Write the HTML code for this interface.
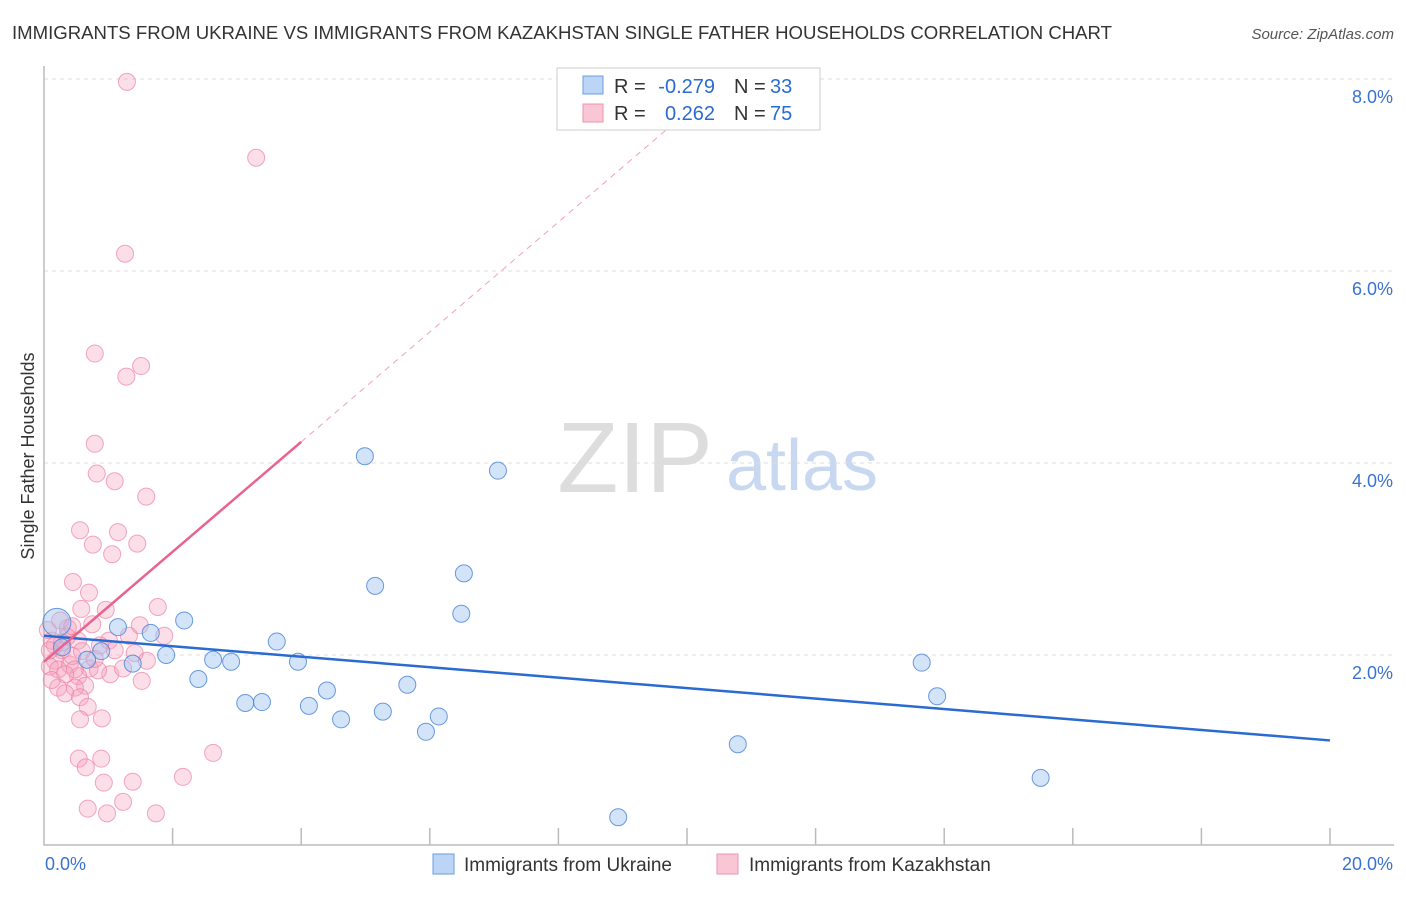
<!DOCTYPE html>
<html><head><meta charset="utf-8"><style>
body{margin:0;background:#fff;font-family:"Liberation Sans",sans-serif;}
svg text{font-family:"Liberation Sans",sans-serif;}
</style></head><body>
<svg id="chart" width="1406" height="892" xmlns="http://www.w3.org/2000/svg">
<text x="12" y="39" font-size="18" fill="#333" textLength="1100" lengthAdjust="spacingAndGlyphs">IMMIGRANTS FROM UKRAINE VS IMMIGRANTS FROM KAZAKHSTAN SINGLE FATHER HOUSEHOLDS CORRELATION CHART</text>
<text x="1394" y="39" font-size="15" fill="#555" text-anchor="end" font-style="italic">Source: ZipAtlas.com</text>
<text transform="translate(34,456) rotate(-90)" font-size="18" fill="#333" text-anchor="middle">Single Father Households</text>
<g><text x="635" y="492" font-size="100" fill="#ddd" text-anchor="middle" font-family="Liberation Serif">ZIP</text><text x="802" y="490" font-size="72" fill="#c8d8f0" text-anchor="middle">atlas</text></g>
<g id="grid"></g><g id="axes"></g><g id="pts"></g><g id="lines"></g>
<g>
<rect x="557" y="68" width="263" height="62" fill="#fff" stroke="#ccc"/>
<rect x="583" y="76" width="20" height="18" fill="#bcd4f5" stroke="#6a9ee0"/>
<rect x="583" y="104" width="20" height="18" fill="#f9c6d5" stroke="#ef93ae"/>
<text x="614" y="93" font-size="20" fill="#333">R =</text>
<text x="715" y="93" font-size="20" fill="#2a6bd1" text-anchor="end">-0.279</text>
<text x="734" y="93" font-size="20" fill="#333">N =</text>
<text x="770" y="93" font-size="20" fill="#2a6bd1">33</text>
<text x="614" y="120" font-size="20" fill="#333">R =</text>
<text x="715" y="120" font-size="20" fill="#2a6bd1" text-anchor="end">0.262</text>
<text x="734" y="120" font-size="20" fill="#333">N =</text>
<text x="770" y="120" font-size="20" fill="#2a6bd1">75</text>
</g>
<g>
<rect x="433" y="854" width="21" height="20" fill="#bcd4f5" stroke="#6a9ee0"/>
<text x="464" y="871" font-size="19" fill="#333">Immigrants from Ukraine</text>
<rect x="717" y="854" width="21" height="20" fill="#f9c6d5" stroke="#ef93ae"/>
<text x="749" y="871" font-size="19" fill="#333">Immigrants from Kazakhstan</text>
</g>
</svg>
<script>
const xTicks=[0,2,4,6,8,10,12,14,16,18,20];
const yTicks=[2,4,6,8];
const ukrX=[0.2,1.15,1.66,2.18,0.89,0.67,1.38,1.9,2.4,2.63,2.91,3.13,3.39,3.62,3.95,4.12,4.4,4.62,4.99,5.15,5.27,5.65,5.94,6.14,6.49,6.53,7.06,8.93,10.79,13.65,13.89,15.5,0.28];
const ukrY=[2.34,2.29,2.23,2.36,2.04,1.95,1.91,2.0,1.75,1.95,1.93,1.5,1.51,2.14,1.93,1.47,1.63,1.33,4.07,2.72,1.41,1.69,1.2,1.36,2.43,2.85,3.92,0.31,1.07,1.92,1.57,0.72,2.08];
const kazX=[1.29,3.3,1.26,0.79,1.28,1.51,0.79,0.82,1.1,1.59,0.56,0.76,1.15,1.06,1.45,0.45,0.7,0.58,0.96,1.77,1.32,1.87,1.41,1.6,1.01,0.75,0.37,0.12,0.28,0.53,0.17,0.4,0.09,0.71,1.03,1.23,0.84,0.53,0.64,0.22,0.48,1.52,0.33,0.56,0.68,0.9,0.56,0.54,0.89,2.63,0.65,0.93,1.38,2.16,1.23,0.68,0.98,1.74,0.17,0.06,0.25,0.36,0.44,0.59,0.79,0.22,0.48,0.33,0.12,0.87,1.1,1.49,0.28,0.09,0.44];
const kazY=[7.97,7.18,6.18,5.14,4.9,5.01,4.2,3.89,3.81,3.65,3.3,3.15,3.28,3.05,3.16,2.76,2.65,2.48,2.47,2.5,2.2,2.2,2.02,1.94,2.15,2.32,2.28,2.15,2.05,2.15,1.94,1.9,1.88,1.86,1.8,1.86,1.84,1.78,1.68,1.66,1.66,1.73,1.6,1.56,1.46,1.34,1.33,0.92,0.92,0.98,0.83,0.67,0.68,0.73,0.47,0.4,0.35,0.35,2.1,2.26,2.36,2.19,1.99,2.04,1.96,1.85,1.85,1.8,1.74,2.10,2.05,2.31,2.13,2.05,2.3];
const ukrTrend=[2.2,1.11];
const kazTrend=[1.93,4.22];
const X=v=>44+v*64.3, Y=v=>847-v*96;
const NS='http://www.w3.org/2000/svg';
function mk(t,a,p){const e=document.createElementNS(NS,t);for(const k in a)e.setAttribute(k,a[k]);p.appendChild(e);return e;}
const grid=document.getElementById('grid'),axes=document.getElementById('axes'),pts=document.getElementById('pts'),lines=document.getElementById('lines');
yTicks.forEach(v=>{const l=mk('line',{x1:44,x2:1394,y1:Y(v),y2:Y(v),stroke:'#ddd','stroke-dasharray':'4,4'},grid);


const t=mk('text',{x:1393,y:Y(v)+24,'font-size':18,fill:'#3a72d0','text-anchor':'end'},axes);t.textContent=v.toFixed(1)+'%';

});
const ax=mk('path',{d:'M44 66 V845 H1394',stroke:'#bbb',fill:'none','stroke-width':1.5},axes);


xTicks.forEach((v,i)=>{if(i>0){const tk=mk('line',{x1:X(v),x2:X(v),y1:828,y2:845,stroke:'#bbb','stroke-width':1.5},axes);

}
if(i==0||i==xTicks.length-1){const t=mk('text',{x:i==0?45:1393,y:870,'font-size':18,fill:'#3a72d0','text-anchor':i==0?'start':'end'},axes);t.textContent=v.toFixed(1)+'%';

}});
kazX.forEach((x,i)=>{const c=mk('circle',{cx:X(x),cy:Y(kazY[i]),r:8.5,fill:'rgba(246,160,188,0.35)',stroke:'rgba(236,130,165,0.7)','stroke-width':1},pts);

});
ukrX.forEach((x,i)=>{const c=mk('circle',{cx:X(x),cy:Y(ukrY[i]),r:i==0?14:8.5,fill:'rgba(160,195,240,0.45)',stroke:'rgba(70,130,215,0.8)','stroke-width':1},pts);

});
const ul=mk('line',{x1:X(0),y1:Y(ukrTrend[0]),x2:X(20),y2:Y(ukrTrend[1]),stroke:'#2a6bd1','stroke-width':2.5},lines);


const ks=(kazTrend[1]-kazTrend[0])/4;
const kl=mk('line',{x1:X(0),y1:Y(kazTrend[0]),x2:X(4),y2:Y(kazTrend[1]),stroke:'#e8648e','stroke-width':2.5},lines);


const yEnd=7.5;
const xe=(yEnd-kazTrend[0])/ks;
const kd=mk('line',{x1:X(4),y1:Y(kazTrend[1]),x2:X(xe),y2:Y(yEnd),stroke:'#f0a0b8','stroke-width':1,'stroke-dasharray':'6,5'},lines);


</script>
</body></html>
